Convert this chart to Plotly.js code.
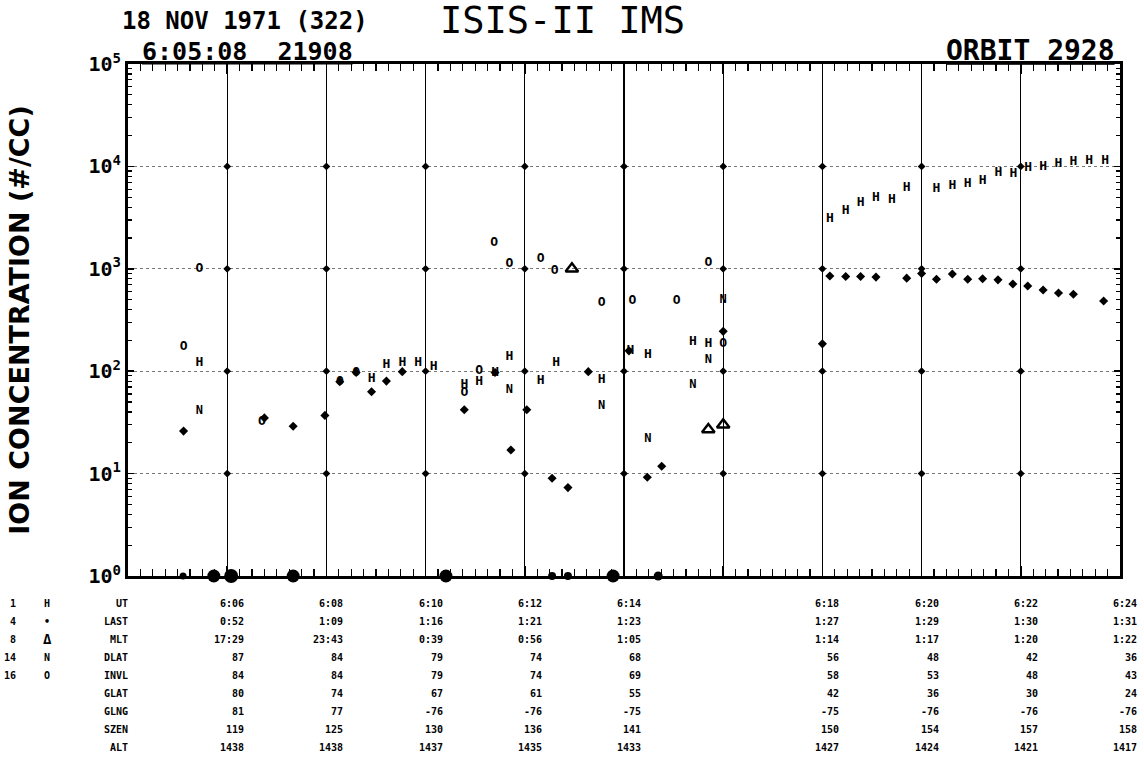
<!DOCTYPE html>
<html>
<head>
<meta charset="utf-8">
<script src="https://cdn.plot.ly/plotly-3.0.1.min.js"></script>
<style>html,body{margin:0;padding:0;background:#fff}#chart{width:1144px;height:777px}</style>
</head>
<body>
<div id="chart"></div>
<script>
// ---------- DATA (time in minutes after 6:00 UT, concentration in ions/cc) ----------
const hTime = [5.44, 8.91, 9.21, 9.53, 9.85, 10.16, 10.78, 11.08, 11.40, 11.69, 12.32, 12.63, 13.55, 14.13, 14.48, 15.39, 15.70, 18.15, 18.47, 18.77, 19.08, 19.40, 19.70, 20.30, 20.62, 20.93, 21.23, 21.55, 21.85, 22.15, 22.45, 22.76, 23.06, 23.38, 23.70];
const hConc = [120, 84, 116, 121, 121, 110, 73, 79, 97, 139, 81, 122, 83, 158, 145, 195, 187, 3100, 3700, 4370, 4930, 4760, 6200, 6000, 6440, 6700, 7200, 8700, 8560, 9800, 10000, 10700, 11100, 11300, 11400];

const heTime = [5.12, 6.75, 7.33, 7.97, 8.27, 8.60, 8.91, 9.21, 9.53, 10.78, 11.40, 11.72, 12.04, 12.55, 12.87, 13.28, 14.10, 14.47, 14.76, 16.00, 18.00, 18.15, 18.47, 18.77, 19.08, 19.70, 20.00, 20.30, 20.62, 20.93, 21.23, 21.54, 21.84, 22.14, 22.45, 22.76, 23.06, 23.67];
const heConc = [26, 35, 29, 37, 79, 97, 63, 80, 99, 42, 97, 17, 42, 9.0, 7.3, 99, 158, 9.2, 11.8, 245, 185, 850, 840, 840, 830, 810, 900, 790, 890, 790, 800, 780, 710, 680, 620, 580, 565, 485];

const m8Time = [12.95, 15.70, 16.00];
const m8Conc = [1000, 27, 30];

const nTime = [5.44, 11.69, 13.55, 14.48, 15.39, 15.70, 16.00];
const nConc = [41, 66, 46, 22, 73, 128, 500];

const oTime = [5.12, 5.44, 6.70, 8.27, 8.60, 10.78, 11.08, 11.38, 11.69, 12.32, 12.60, 13.55, 14.17, 15.06, 15.70, 16.00];
const oConc = [175, 1000, 32, 79, 97, 61, 102, 1780, 1130, 1260, 960, 466, 486, 490, 1150, 187];

const floorTime = [5.11, 5.73, 6.08, 7.33, 10.41, 12.55, 12.87, 13.78, 14.69];
const floorConc = [1, 1, 1, 1, 1, 1, 1, 1, 1];
const floorSize = [7, 13, 14, 13, 13, 8, 8, 13, 9];

// axis / grid
const gridMinutes = [6, 8, 10, 12, 14, 16, 18, 20, 22];
const decades = [1, 10, 100, 1000, 10000, 100000];
const decadeLabels = ['10<sup>0</sup>', '10<sup>1</sup>', '10<sup>2</sup>', '10<sup>3</sup>', '10<sup>4</sup>', '10<sup>5</sup>'];

// ephemeris table
const tableMinutes = [6, 8, 10, 12, 14, 18, 20, 22, 24];
const rowNames = ['UT', 'LAST', 'MLT', 'DLAT', 'INVL', 'GLAT', 'GLNG', 'SZEN', 'ALT'];
const rowUT   = ['6:06', '6:08', '6:10', '6:12', '6:14', '6:18', '6:20', '6:22', '6:24'];
const rowLAST = ['0:52', '1:09', '1:16', '1:21', '1:23', '1:27', '1:29', '1:30', '1:31'];
const rowMLT  = ['17:29', '23:43', '0:39', '0:56', '1:05', '1:14', '1:17', '1:20', '1:22'];
const rowDLAT = ['87', '84', '79', '74', '68', '56', '48', '42', '36'];
const rowINVL = ['84', '84', '79', '74', '69', '58', '53', '48', '43'];
const rowGLAT = ['80', '74', '67', '61', '55', '42', '36', '30', '24'];
const rowGLNG = ['81', '77', '-76', '-76', '-75', '-75', '-76', '-76', '-76'];
const rowSZEN = ['119', '125', '130', '136', '141', '150', '154', '157', '158'];
const rowALT  = ['1438', '1438', '1437', '1435', '1433', '1427', '1424', '1421', '1417'];
const tableRows = [rowUT, rowLAST, rowMLT, rowDLAT, rowINVL, rowGLAT, rowGLNG, rowSZEN, rowALT];

const keyMass = ['1', '4', '8', '14', '16'];
const keySymbol = ['H', '•', 'Δ', 'N', 'O'];

// ---------- FIGURE ----------
const MONO = 'DejaVu Sans Mono, monospace';
const ink = '#000';

// grid-intersection markers built from the axis grid values
const gx = [], gy = [];
gridMinutes.forEach(m => [10, 100, 1000, 10000].forEach(d => { gx.push(m); gy.push(d); }));

const traces = [
  {x: gx, y: gy, mode: 'markers', type: 'scatter', hoverinfo: 'skip', showlegend: false,
   marker: {symbol: 'diamond', size: 6, color: ink}},
  {x: hTime, y: hConc, mode: 'text', type: 'scatter', text: hTime.map(() => 'H'), name: '1 H',
   textfont: {family: MONO, size: 13, color: ink, weight: 'bold'}},
  {x: heTime, y: heConc, mode: 'markers', type: 'scatter', name: '4 •',
   marker: {symbol: 'diamond', size: 7, color: ink}},
  {x: m8Time, y: m8Conc, mode: 'markers', type: 'scatter', name: '8 Δ',
   marker: {symbol: 'triangle-up-open', size: 11, color: ink, line: {width: 2.4, color: ink}}},
  {x: nTime, y: nConc, mode: 'text', type: 'scatter', text: nTime.map(() => 'N'), name: '14 N',
   textfont: {family: MONO, size: 12, color: ink, weight: 'bold'}},
  {x: oTime, y: oConc, mode: 'text', type: 'scatter', text: oTime.map(() => 'O'), name: '16 O',
   textfont: {family: MONO, size: 13, color: ink, weight: 'bold'}},
  {x: floorTime, y: floorConc, mode: 'markers', type: 'scatter', name: 'floor', cliponaxis: false,
   marker: {symbol: 'circle', size: floorSize, color: ink, opacity: 1, line: {width: 0}}}
];

const plotTop = 64, plotBottom = 576, plotLeft = 128, plotRight = 1120;
const ph = plotBottom - plotTop, pw = plotRight - plotLeft;
const py = (pix) => (plotBottom - pix) / ph;   // pixel row -> paper y
const px = (pix) => (pix - plotLeft) / pw;     // pixel col -> paper x

const annotations = [];
const tFont = (size, weight) => ({family: MONO, size: size, color: ink, weight: weight || 'bold'});
annotations.push({text: '18 NOV 1971 (322)', xref: 'paper', yref: 'paper', x: px(120), y: py(21),
  xanchor: 'left', yanchor: 'middle', showarrow: false, font: tFont(24)});
annotations.push({text: 'ISIS-II IMS', xref: 'paper', yref: 'paper', x: px(438), y: py(20),
  xanchor: 'left', yanchor: 'middle', showarrow: false, font: tFont(37, 'normal')});
annotations.push({text: '<u>6:05:08  21908</u>', xref: 'paper', yref: 'paper', x: px(140), y: py(51),
  xanchor: 'left', yanchor: 'middle', showarrow: false, font: tFont(25)});
annotations.push({text: '<u>ORBIT 2928</u>', xref: 'paper', yref: 'paper', x: px(1117), y: py(50),
  xanchor: 'right', yanchor: 'middle', showarrow: false, font: tFont(28)});

const rowY0 = 603, rowStep = 18.1;
rowNames.forEach((name, i) => {
  annotations.push({text: name, xref: 'paper', yref: 'paper', x: px(130), y: py(rowY0 + i * rowStep),
    xanchor: 'right', yanchor: 'middle', showarrow: false, font: tFont(10)});
  tableRows[i].forEach((val, j) => {
    annotations.push({text: val, xref: 'x', yref: 'paper', x: tableMinutes[j], xshift: 19, y: py(rowY0 + i * rowStep),
      xanchor: 'right', yanchor: 'middle', showarrow: false, font: tFont(10)});
  });
});
keyMass.forEach((m, i) => {
  annotations.push({text: m, xref: 'paper', yref: 'paper', x: px(18), y: py(rowY0 + i * rowStep),
    xanchor: 'right', yanchor: 'middle', showarrow: false, font: tFont(10)});
  annotations.push({text: keySymbol[i], xref: 'paper', yref: 'paper', x: px(47), y: py(rowY0 + i * rowStep),
    xanchor: 'center', yanchor: 'middle', showarrow: false, font: tFont(i === 2 ? 14 : 10)});
});

// minor tick positions for log axis (2..9 in each decade)
const yMinor = [];
decades.slice(0, 5).forEach(d => { for (let k = 2; k <= 9; k++) yMinor.push(d * k); });

const layout = {
  width: 1144, height: 777,
  margin: {l: plotLeft, r: 1144 - plotRight, t: plotTop, b: 777 - plotBottom},
  paper_bgcolor: '#fff', plot_bgcolor: '#fff',
  showlegend: false,
  font: {family: MONO, color: ink},
  xaxis: {
    range: [4, 24], tickmode: 'array', tickvals: gridMinutes, showticklabels: false,
    ticks: 'inside', ticklen: 10, tickwidth: 1.5, tickcolor: ink,
    showgrid: true, gridcolor: ink, gridwidth: 1.4,
    showline: true, linecolor: ink, linewidth: 3, mirror: 'ticks', zeroline: false,
    minor: {dtick: 0.25, tick0: 4, ticks: 'inside', ticklen: 7, tickwidth: 1.3, tickcolor: ink, showgrid: false}
  },
  yaxis: {
    type: 'log', range: [0, 5], tickmode: 'array', tickvals: decades, ticktext: decadeLabels,
    ticks: 'inside', ticklen: 6, tickwidth: 1.5, tickcolor: ink,
    tickfont: {family: MONO, size: 20, color: ink, weight: 'bold'},
    showgrid: true, gridcolor: '#777', gridwidth: 1, griddash: 'dot',
    showline: true, linecolor: ink, linewidth: 3, mirror: 'ticks', zeroline: false,
    minor: {tickmode: 'array', tickvals: yMinor, ticks: 'inside', ticklen: 4, tickwidth: 1.2, tickcolor: ink, showgrid: false},
    title: {text: 'ION CONCENTRATION (#/CC)', standoff: 52,
      font: {family: 'DejaVu Sans, sans-serif', size: 27, color: ink, weight: 'bold'}}
  },
  annotations: annotations
};

Plotly.newPlot('chart', traces, layout, {displayModeBar: false, staticPlot: true});
</script>
</body>
</html>
